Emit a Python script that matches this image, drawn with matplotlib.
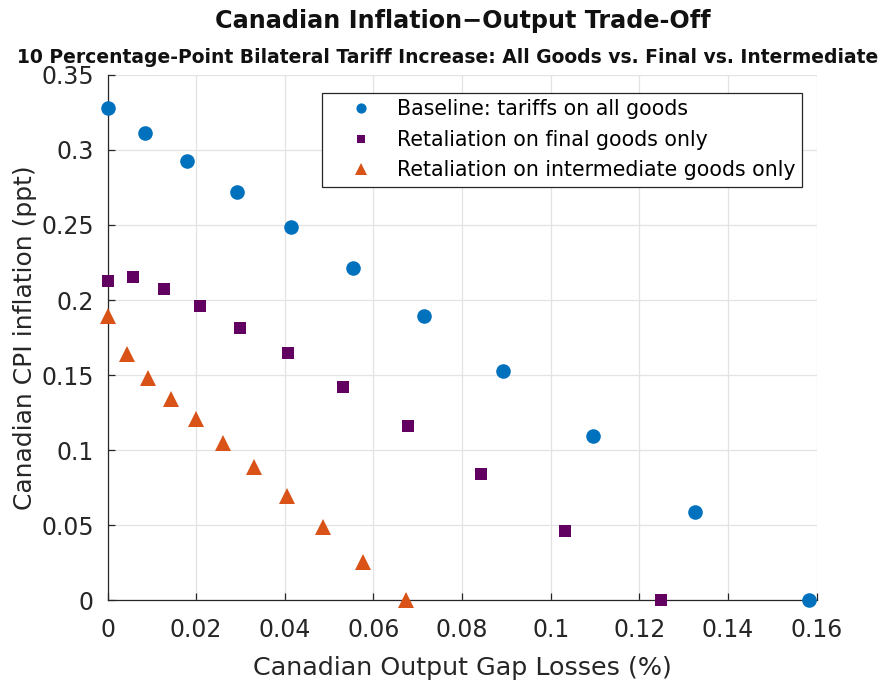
import matplotlib
matplotlib.use("Agg")
import matplotlib.pyplot as plt
from matplotlib.ticker import MultipleLocator, FuncFormatter

# Output-gap losses (%) and CPI inflation (ppt) for each scenario
gap_all = [0.0, 0.0085, 0.0180, 0.0291, 0.0413, 0.0553, 0.0713, 0.0893, 0.1096, 0.1325, 0.1582]
cpi_all = [0.328, 0.3115, 0.2929, 0.272, 0.2485, 0.2211, 0.1895, 0.1524, 0.1093, 0.0584, 0.0]

gap_final = [0.0, 0.0057, 0.0127, 0.0208, 0.0300, 0.0408, 0.0531, 0.0677, 0.0842, 0.1032, 0.1249]
cpi_final = [0.2129, 0.2155, 0.2075, 0.196, 0.1815, 0.1644, 0.1418, 0.1158, 0.084, 0.046, 0.0]

gap_inter = [0.0, 0.0043, 0.0091, 0.0143, 0.0199, 0.0261, 0.0330, 0.0404, 0.0487, 0.0576, 0.0673]
cpi_inter = [0.1896, 0.1638, 0.1482, 0.1342, 0.1207, 0.1044, 0.0884, 0.0693, 0.0489, 0.0256, 0.0]

labels = ["Baseline: tariffs on all goods",
          "Retaliation on final goods only",
          "Retaliation on intermediate goods only"]

title = "Canadian Inflation\u2212Output Trade-Off"
subtitle = "10 Percentage-Point Bilateral Tariff Increase: All Goods vs. Final vs. Intermediate"

blue = "#0072BD"
purple = "#620062"
orange = "#D95319"
axis_col = "#262626"

plt.rcParams["font.family"] = ["DejaVu Sans"]

fig = plt.figure(figsize=(8.85, 6.83), dpi=100)
ax = fig.add_axes([0.1215, 0.1215, 0.8013, 0.7687])

ax.plot(gap_all, cpi_all, linestyle="none", marker="o", markersize=10.5,
        color=blue, markeredgewidth=0, label=labels[0], clip_on=False, zorder=3)
ax.plot(gap_final, cpi_final, linestyle="none", marker="s", markersize=8.5,
        color=purple, markeredgewidth=0, label=labels[1], clip_on=False, zorder=3)
ax.plot(gap_inter, cpi_inter, linestyle="none", marker="^", markersize=12,
        color=orange, markeredgewidth=0, label=labels[2], clip_on=False, zorder=3)

ax.set_xlim(0, 0.16)
ax.set_ylim(0, 0.35)
ax.xaxis.set_major_locator(MultipleLocator(0.02))
ax.yaxis.set_major_locator(MultipleLocator(0.05))
fmt = FuncFormatter(lambda v, p: "0" if abs(v) < 1e-12 else ("%.2f" % v).rstrip("0"))
ax.xaxis.set_major_formatter(fmt)
ax.yaxis.set_major_formatter(fmt)

ax.grid(True, color="#E3E3E3", linewidth=0.9)
ax.set_axisbelow(True)
for side in ("top", "right"):
    ax.spines[side].set_visible(False)
for side in ("left", "bottom"):
    ax.spines[side].set_color(axis_col)
    ax.spines[side].set_linewidth(0.9)
ax.tick_params(direction="in", length=5, width=0.9, color=axis_col,
               labelsize=17, labelcolor=axis_col)
ax.tick_params(axis="x", pad=13)
ax.tick_params(axis="y", pad=10)

ax.set_xlabel("Canadian Output Gap Losses (%)", fontsize=18.3, color=axis_col, labelpad=10)
ax.set_ylabel("Canadian CPI inflation (ppt)", fontsize=18, color=axis_col, labelpad=3)

fig.text(0.523, 0.959, title, ha="center", va="baseline", fontsize=17.2,
         fontweight="bold", color="#111111")
fig.text(0.5057, 0.908, subtitle, ha="center", va="baseline", fontsize=13.5,
         fontweight="bold", color="#111111")

leg = ax.legend(loc="upper right", bbox_to_anchor=(0.979, 0.966), borderaxespad=0,
                fontsize=14.8, frameon=True, fancybox=False, edgecolor=axis_col,
                handlelength=3.2, handletextpad=0.15, borderpad=0.3,
                labelspacing=0.52, markerscale=0.7)
leg.get_frame().set_linewidth(0.9)
leg.get_frame().set_alpha(1.0)

fig.savefig("out.png", dpi=100)
